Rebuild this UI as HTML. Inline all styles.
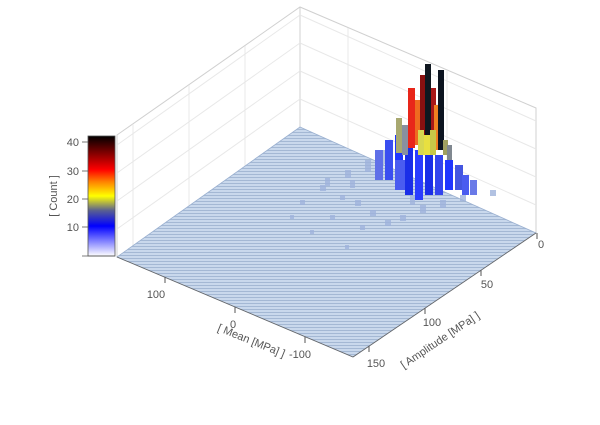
<!DOCTYPE html>
<html><head><meta charset="utf-8"><style>
body{margin:0;background:#fff;width:600px;height:420px;overflow:hidden;font-family:"Liberation Sans",sans-serif}
</style></head><body>
<svg width="600" height="420" viewBox="0 0 600 420" xmlns="http://www.w3.org/2000/svg" font-family="Liberation Sans, sans-serif">
<defs>
<linearGradient id="cb" x1="0" y1="1" x2="0" y2="0">
<stop offset="0" stop-color="#ffffff"/>
<stop offset="0.25" stop-color="#0000ff"/>
<stop offset="0.38" stop-color="#5a6090"/>
<stop offset="0.5" stop-color="#ffff00"/>
<stop offset="0.62" stop-color="#ff8000"/>
<stop offset="0.72" stop-color="#ff0000"/>
<stop offset="1" stop-color="#000000"/>
</linearGradient>
<pattern id="st" width="4" height="3" patternUnits="userSpaceOnUse">
<rect width="4" height="3" fill="#c9d8ec"/>
<rect width="4" height="1" fill="#a4b8d4"/>
</pattern>
</defs>
<g stroke="#d0d0d0" stroke-width="1" fill="none">
<polyline points="117,257 117,135 300,7 536,108 536,233"/>
<line x1="300" y1="7" x2="300" y2="127"/>
<g stroke="#e8e8e8">
<line x1="133" y1="246" x2="133" y2="124"/>
<line x1="189" y1="207" x2="189" y2="85"/>
<line x1="245" y1="168" x2="245" y2="46"/>
<line x1="348" y1="148" x2="348" y2="28"/>
<line x1="447" y1="190" x2="447" y2="70"/>
<line x1="117" y1="229" x2="300" y2="99"/><line x1="300" y1="99" x2="536" y2="205"/>
<line x1="117" y1="201" x2="300" y2="71"/><line x1="300" y1="71" x2="536" y2="177"/>
<line x1="117" y1="173" x2="300" y2="43"/><line x1="300" y1="43" x2="536" y2="149"/>
<line x1="117" y1="145" x2="300" y2="15"/><line x1="300" y1="15" x2="536" y2="121"/>
</g>
</g>
<polygon points="117,257 300,127 536,233 353,357" fill="url(#st)" stroke="#9ab0d0" stroke-width="0.8"/>
<line x1="117" y1="257" x2="353" y2="357" stroke="#666" stroke-width="0.8"/>
<line x1="353" y1="357" x2="536" y2="233" stroke="#666" stroke-width="0.8"/>
<g fill="#9fb3dc" opacity="0.8">
<rect x="320" y="185" width="6" height="6"/><rect x="340" y="195" width="5" height="5"/><rect x="355" y="200" width="6" height="6"/>
<rect x="300" y="200" width="5" height="5"/><rect x="330" y="215" width="5" height="5"/><rect x="370" y="210" width="6" height="6"/>
<rect x="385" y="220" width="6" height="6"/><rect x="360" y="225" width="5" height="5"/><rect x="400" y="215" width="6" height="6"/>
<rect x="345" y="170" width="6" height="8"/><rect x="365" y="160" width="6" height="12"/><rect x="380" y="150" width="6" height="14"/>
<rect x="310" y="230" width="4" height="4"/><rect x="345" y="245" width="4" height="4"/><rect x="290" y="215" width="4" height="4"/>
<rect x="420" y="205" width="6" height="8"/><rect x="440" y="200" width="6" height="8"/><rect x="460" y="195" width="6" height="6"/><rect x="490" y="190" width="6" height="6"/>
<rect x="325" y="178" width="5" height="8"/><rect x="350" y="180" width="5" height="8"/><rect x="410" y="195" width="5" height="10"/><rect x="470" y="185" width="5" height="8"/>
</g>
<g>
<rect x="385" y="140" width="8" height="40" fill="#3a4ef0"/>
<rect x="395" y="135" width="8" height="50" fill="#2036ff"/>
<rect x="405" y="145" width="8" height="50" fill="#1a2ee8"/>
<rect x="415" y="150" width="8" height="50" fill="#2a3cff"/>
<rect x="425" y="150" width="8" height="45" fill="#1a2ee8"/>
<rect x="435" y="155" width="8" height="40" fill="#3344ee"/>
<rect x="445" y="160" width="8" height="30" fill="#2036ff"/>
<rect x="455" y="165" width="8" height="25" fill="#4456e0"/>
<rect x="375" y="150" width="8" height="30" fill="#6070e8"/>
<rect x="395" y="160" width="10" height="30" fill="#4a5cf0"/>
<rect x="462" y="175" width="7" height="20" fill="#4a5cf0"/>
<rect x="470" y="180" width="7" height="15" fill="#6a7ae8"/>
</g>
<g>
<rect x="396" y="118" width="6" height="35" fill="#a8a870"/>
<rect x="402" y="125" width="6" height="30" fill="#8890a0"/>
<rect x="408" y="88" width="7" height="60" fill="#e8261a"/>
<rect x="415" y="100" width="6" height="45" fill="#ee6a20"/>
<rect x="420" y="75" width="6" height="70" fill="#8a1010"/>
<rect x="425" y="64" width="6" height="85" fill="#101820"/>
<rect x="431" y="88" width="5" height="55" fill="#a81818"/>
<rect x="434" y="105" width="5" height="45" fill="#f08020"/>
<rect x="438" y="70" width="6" height="80" fill="#0c1420"/>
<rect x="418" y="130" width="6" height="25" fill="#d8d850"/>
<rect x="424" y="135" width="6" height="20" fill="#e8e040"/>
<rect x="430" y="130" width="6" height="25" fill="#c8c848"/>
<rect x="443" y="140" width="5" height="15" fill="#a0a060"/>
<rect x="447" y="145" width="5" height="15" fill="#808890"/>
</g>
<rect x="88" y="136" width="27" height="120" fill="url(#cb)" stroke="#555" stroke-width="0.8"/>
<g stroke="#555" stroke-width="0.8">
<line x1="82" y1="142" x2="88" y2="142"/><line x1="82" y1="171" x2="88" y2="171"/>
<line x1="82" y1="199" x2="88" y2="199"/><line x1="82" y1="227" x2="88" y2="227"/>
<line x1="82" y1="256" x2="115" y2="256"/>
</g>
<g font-size="11" fill="#555" text-anchor="end">
<text x="79" y="146">40</text><text x="79" y="175">30</text><text x="79" y="203">20</text><text x="79" y="231">10</text>
</g>
<text transform="translate(57,196) rotate(-90)" font-size="11" fill="#555" text-anchor="middle">[ Count ]</text>
<g stroke="#555"><line x1="165" y1="277" x2="165" y2="283"/><line x1="235" y1="307" x2="235" y2="313"/><line x1="305" y1="337" x2="305" y2="343"/>
<line x1="537" y1="233" x2="537" y2="239"/><line x1="481" y1="270" x2="481" y2="276"/><line x1="425" y1="308" x2="425" y2="314"/><line x1="369" y1="346" x2="369" y2="352"/></g>
<g font-size="11" fill="#555" text-anchor="middle">
<text x="156" y="298">100</text><text x="233" y="328">0</text><text x="300" y="358">-100</text>
<text x="541" y="248">0</text><text x="487" y="288">50</text><text x="432" y="326">100</text><text x="376" y="367">150</text>
</g>
<text transform="translate(250,344) rotate(22)" font-size="11" fill="#555" text-anchor="middle">[ Mean [MPa] ]</text>
<text transform="translate(442,343) rotate(-34)" font-size="11" fill="#555" text-anchor="middle">[ Amplitude [MPa] ]</text>
</svg>
</body></html>
